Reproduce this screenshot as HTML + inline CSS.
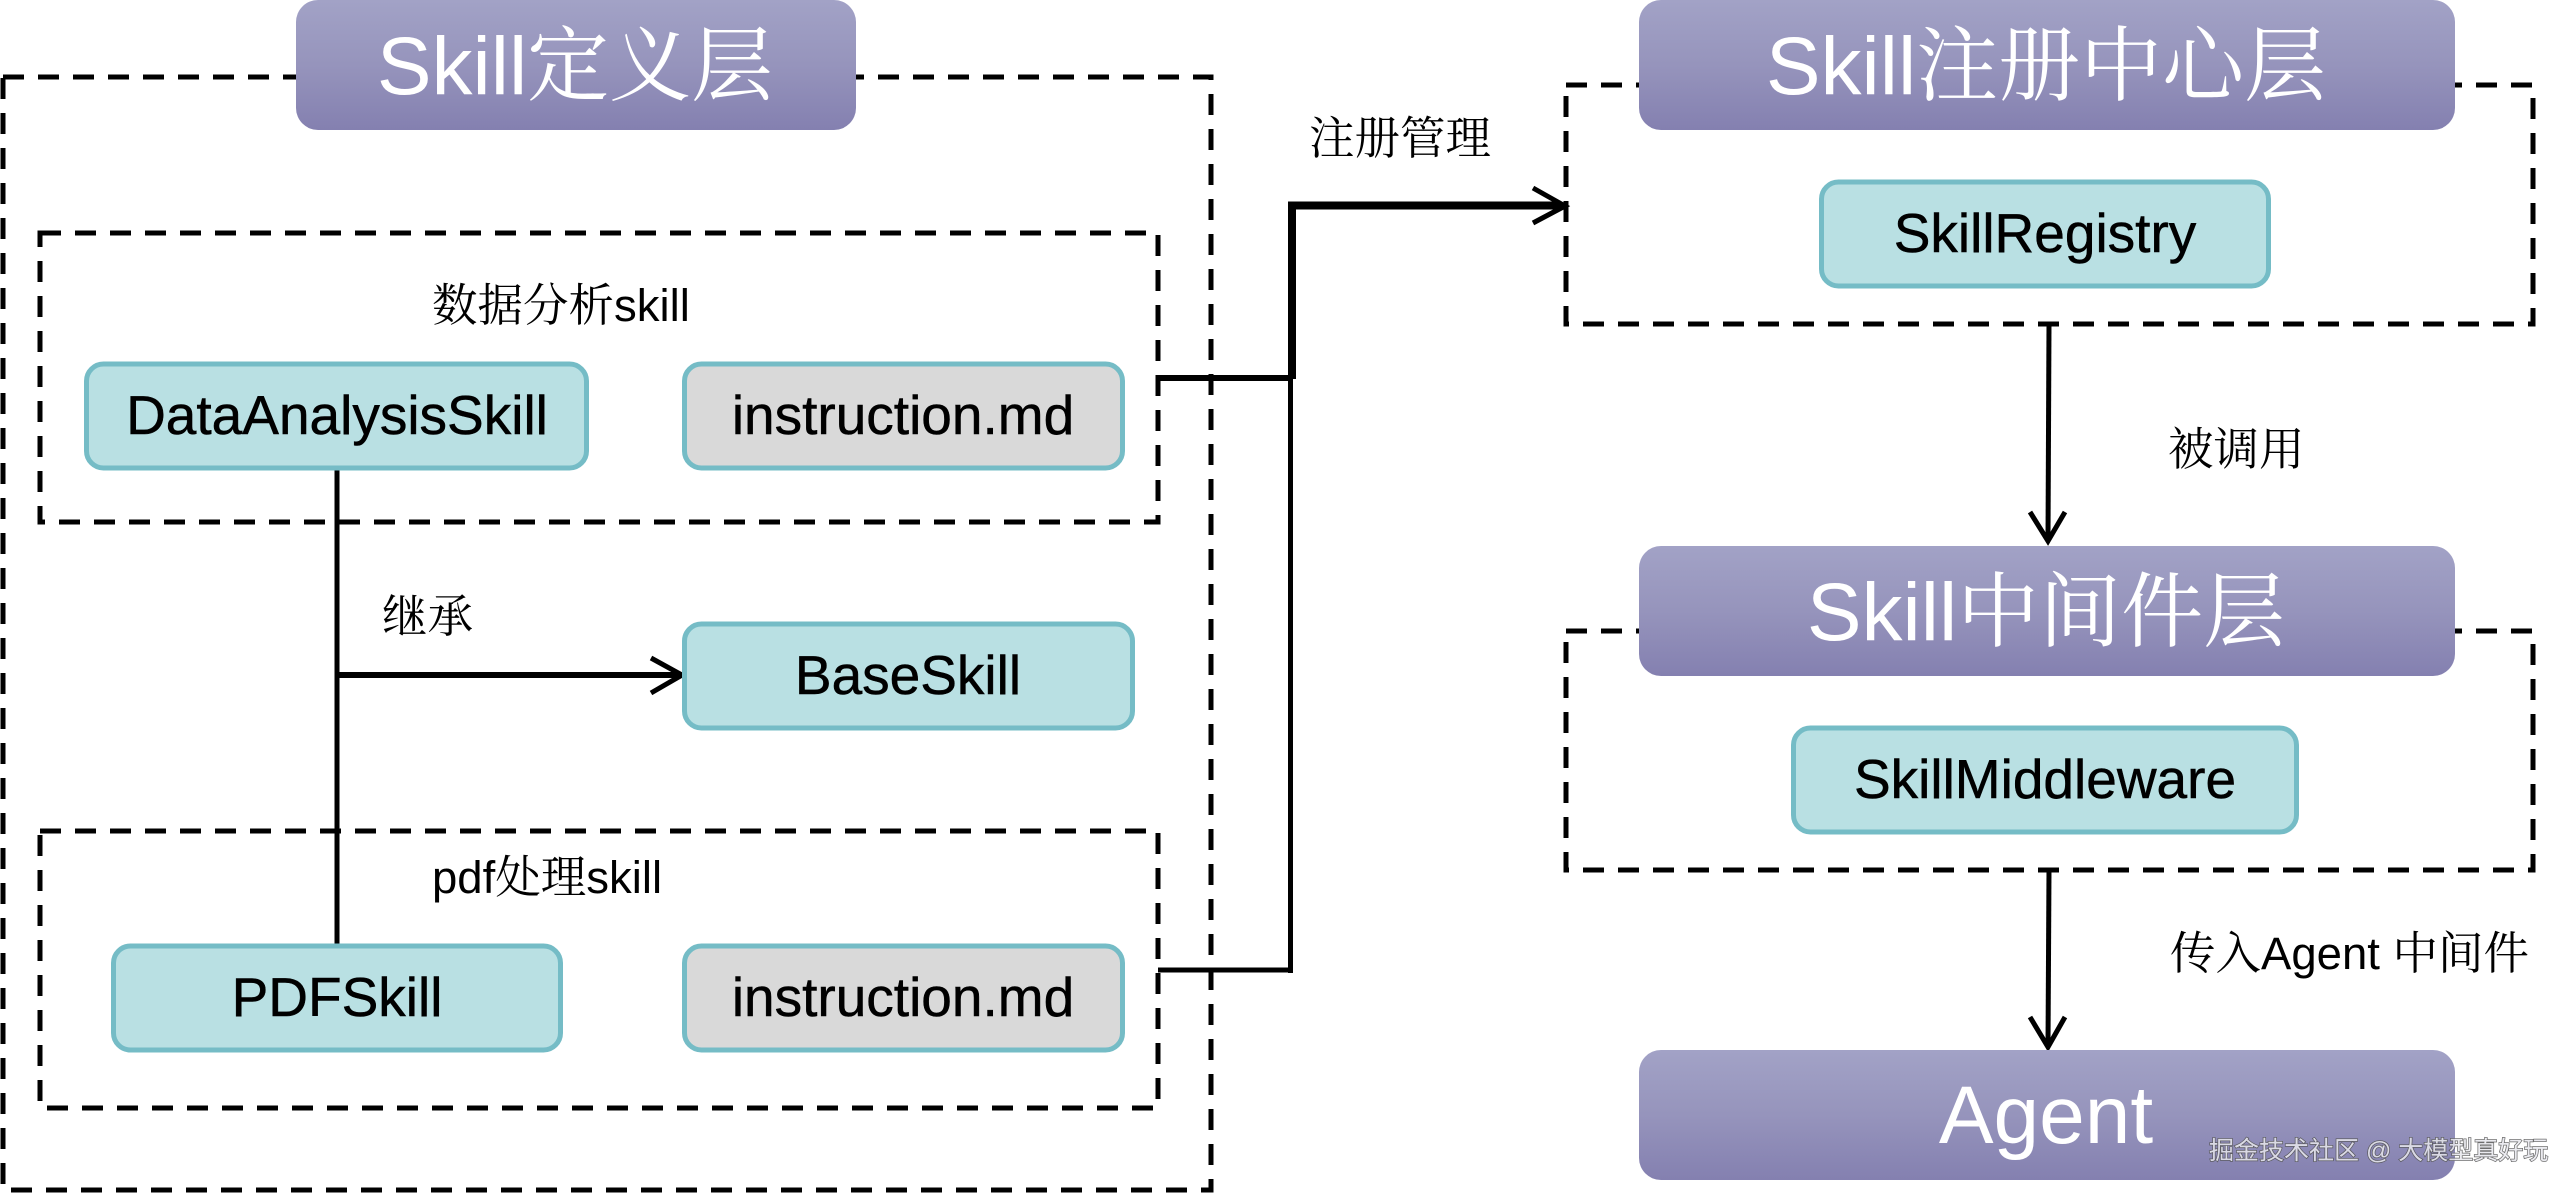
<!DOCTYPE html>
<html lang="zh">
<head>
<meta charset="utf-8">
<title>Skill Architecture</title>
<style>
html,body{margin:0;padding:0;background:#fff;width:2576px;height:1194px;overflow:hidden}
svg{display:block}
text{font-family:"Liberation Sans","Noto Serif CJK SC",serif}
.t{font-size:82px;fill:#fff;text-anchor:middle}
.n{font-size:55px;fill:#000;text-anchor:middle;stroke:#000;stroke-width:.5px}
.l{font-size:45.500px;fill:#000}
.d{fill:none;stroke:#000;stroke-width:5;stroke-dasharray:21 14}
.b{fill:#b9e0e3;stroke:#75bcc6;stroke-width:5}
.g{fill:#d9d9d9;stroke:#75bcc6;stroke-width:5}
.c{fill:none;stroke:#000;stroke-linecap:butt;stroke-linejoin:miter}
</style>
</head>
<body>
<svg width="2576" height="1194" viewBox="0 0 2576 1194" xmlns="http://www.w3.org/2000/svg">
<defs>
<linearGradient id="p" x1="0" y1="0" x2="0" y2="1">
<stop offset="0" stop-color="#a2a2c6"/>
<stop offset="0.5" stop-color="#9694bc"/>
<stop offset="1" stop-color="#8480b0"/>
</linearGradient>
</defs>
<rect width="2576" height="1194" fill="#fff"/>

<!-- dashed containers -->
<rect class="d" x="3" y="77" width="1208" height="1113"/>
<rect class="d" x="40" y="233" width="1118" height="289"/>
<rect class="d" x="40" y="831" width="1118" height="277"/>
<rect class="d" x="1566" y="85" width="967" height="239"/>
<rect class="d" x="1566" y="631" width="967" height="239"/>

<!-- connectors -->
<path class="c" stroke-width="5" d="M337 469V944"/>
<path class="c" stroke-width="6" d="M337 675H680"/>
<path class="c" stroke-width="5" stroke-linecap="round" d="M651 658L682 675L651 693" />
<path class="c" stroke-width="6" d="M1158 378H1293"/>
<path class="c" stroke-width="5" d="M1158 970H1291M1290.500 973V375"/>
<path class="c" stroke-width="8" d="M1292 379V205.500H1562"/>
<path class="c" stroke-width="5" stroke-linecap="round" d="M1533 188L1565 206L1533 223"/>
<path class="c" stroke-width="5" d="M2049 324L2048 540"/>
<path class="c" stroke-width="5" stroke-linecap="round" d="M2030 512L2048 541L2065 512"/>
<path class="c" stroke-width="5" d="M2049 870L2048 1046"/>
<path class="c" stroke-width="5" stroke-linecap="round" d="M2030 1017L2048 1047L2065 1017"/>

<!-- title bars -->
<rect x="296" y="0" width="560" height="130" rx="22" fill="url(#p)"/>
<text class="t" x="575" y="94">Skill定义层</text>
<rect x="1639" y="0" width="816" height="130" rx="22" fill="url(#p)"/>
<text class="t" x="2046" y="94">Skill注册中心层</text>
<rect x="1639" y="546" width="816" height="130" rx="22" fill="url(#p)"/>
<text class="t" x="2046" y="640">Skill中间件层</text>
<rect x="1639" y="1050" width="816" height="130" rx="22" fill="url(#p)"/>
<text class="t" x="2046" y="1143">Agent</text>

<!-- nodes -->
<rect class="b" x="86.500" y="364" width="500" height="104" rx="17"/>
<text class="n" x="337" y="434">DataAnalysisSkill</text>
<rect class="g" x="684.500" y="364" width="438" height="104" rx="17"/>
<text class="n" x="903" y="434">instruction.md</text>
<rect class="b" x="684.500" y="624" width="448" height="104" rx="17"/>
<text class="n" x="908" y="694">BaseSkill</text>
<rect class="b" x="113.500" y="946" width="447" height="104" rx="17"/>
<text class="n" x="337" y="1016">PDFSkill</text>
<rect class="g" x="684.500" y="946" width="438" height="104" rx="17"/>
<text class="n" x="903" y="1016">instruction.md</text>
<rect class="b" x="1821.500" y="182" width="447" height="104" rx="17"/>
<text class="n" x="2045" y="252">SkillRegistry</text>
<rect class="b" x="1793.500" y="728" width="503" height="104" rx="17"/>
<text class="n" x="2045" y="798">SkillMiddleware</text>

<!-- labels -->
<text class="l" x="432" y="321">数据分析skill</text>
<text class="l" x="432" y="893">pdf处理skill</text>
<text class="l" x="382" y="632">继承</text>
<text class="l" x="1309" y="154">注册管理</text>
<text class="l" x="2168" y="465">被调用</text>
<text class="l" x="2170" y="969">传入Agent 中间件</text>

<!-- watermark -->
<text x="2209" y="1159" style="font-size:25px;fill:#e8e8ee;font-family:'Liberation Sans','Noto Sans CJK SC',sans-serif;paint-order:stroke;stroke:#555;stroke-width:1.500px;opacity:.85">掘金技术社区 @ 大模型真好玩</text>
</svg>
</body>
</html>
